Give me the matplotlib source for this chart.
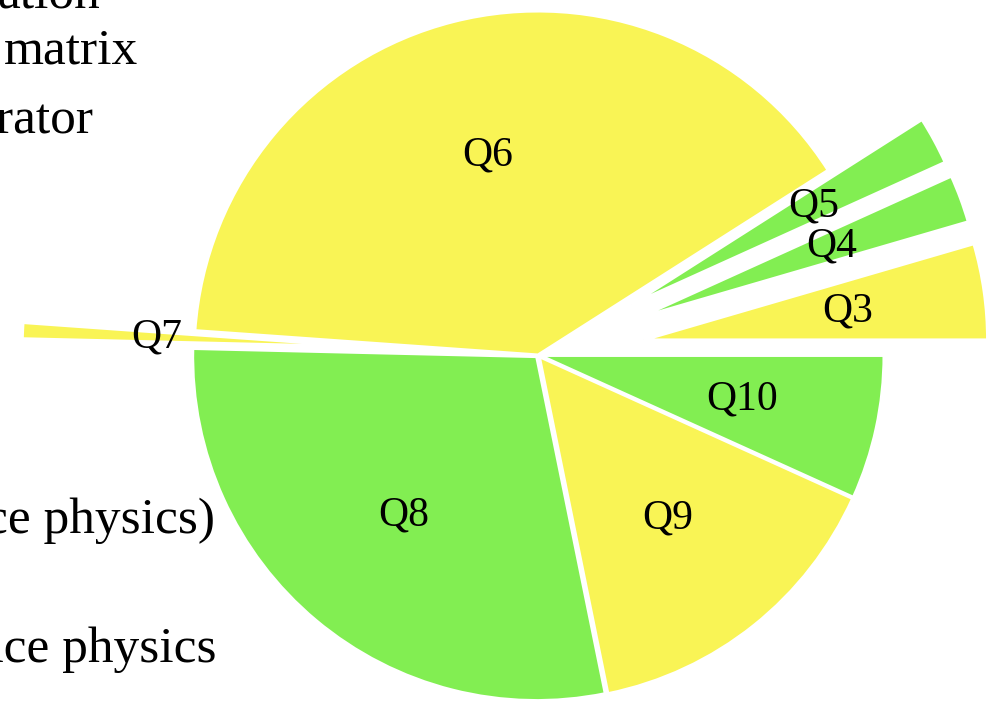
import numpy as np
import matplotlib
matplotlib.use("Agg")
import matplotlib.pyplot as plt

# Responses per question
questions = ["Q3", "Q4", "Q5", "Q6", "Q7", "Q8", "Q9", "Q10"]
counts = [6, 3, 3, 53, 1, 38, 20, 9]

# Slide bullet fragments beside the chart
bullet_texts = ["ation", "matrix", "rator", "ce physics)", "nce physics"]

YELLOW = "#F9F455"
GREEN = "#82EE52"
colors = [YELLOW, GREEN, GREEN, YELLOW, YELLOW, GREEN, YELLOW, GREEN]
# explode as a fraction of the radius
explode_frac = [0.31, 0.31, 0.31, 0.0, 0.50, 0.006, 0.006, 0.006]
label_frac = [0.60, 0.60, 0.60, 0.60, 0.61, 0.60, 0.60, 0.60]

W, H = 989, 701
fig = plt.figure(figsize=(W / 100, H / 100), dpi=100)
ax = fig.add_axes([0, 0, 1, 1])

R = 344
cx, cy = 538, H - 355

wedges, _ = ax.pie(
    counts,
    colors=colors,
    explode=[e * R for e in explode_frac],
    startangle=0,
    counterclock=True,
    radius=R,
    center=(cx, cy),
    wedgeprops=dict(edgecolor="white", linewidth=2.2),
    frame=True,
)
ax.set_xlim(0, W)
ax.set_ylim(0, H)
ax.set_aspect("equal")
ax.axis("off")

for w, name, f in zip(wedges, questions, label_frac):
    mid = np.deg2rad(0.5 * (w.theta1 + w.theta2))
    x0, y0 = w.center
    ax.text(x0 + f * R * np.cos(mid), y0 + f * R * np.sin(mid), name,
            ha="center", va="center", fontsize=30,
            family="Liberation Serif", color="black")

# Bullet fragments, right edges and baselines in pixels
bullet_right = [100, 138, 93, 215, 217]
bullet_base = [8, 63, 133, 533, 662]
for t, xr, yb in zip(bullet_texts, bullet_right, bullet_base):
    fig.text(xr / W, 1 - yb / H, t, ha="right", va="baseline",
             fontsize=37, family="Liberation Serif", color="black")

fig.savefig("out.png", dpi=100, facecolor="white")
